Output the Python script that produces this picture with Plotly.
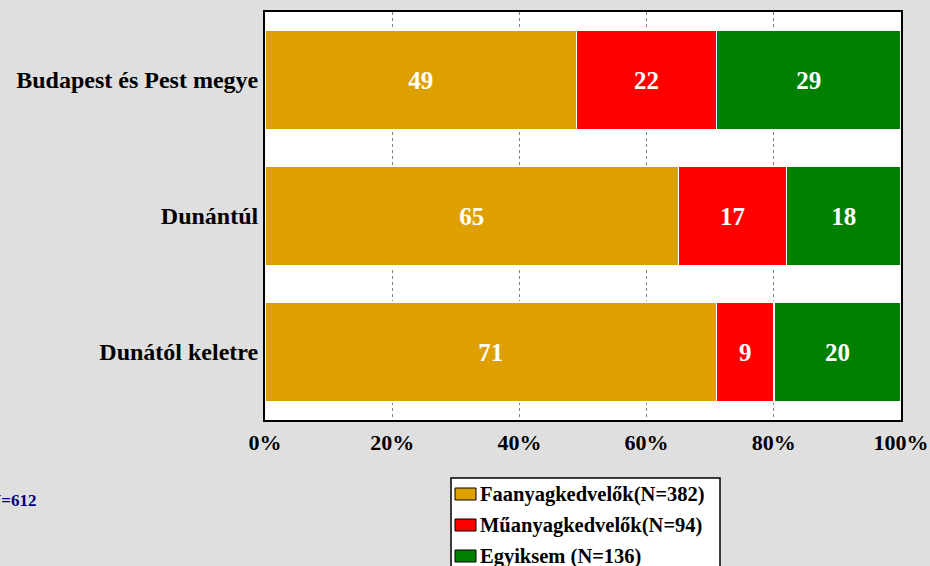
import plotly.graph_objects as go

# regions, top to bottom
regions = ["Budapest és Pest megye", "Dunántúl", "Dunától keletre"]
series = ["Faanyagkedvelők(N=382)", "Műanyagkedvelők(N=94)", "Egyiksem (N=136)"]
faanyag = [49, 65, 71]
muanyag = [22, 17, 9]
egyiksem = [29, 18, 20]
colors = ["#DDA000", "#FF0000", "#008000"]
tick_vals = [0, 20, 40, 60, 80, 100]
tick_text = ["0%", "20%", "40%", "60%", "80%", "100%"]

serif = "Liberation Serif"

# plot area in pixels: left 265, right 901, top 12, bottom 420
def px(x):
    return (x - 265) / 636

def py(y):
    return (420 - y) / 408

fig = go.Figure()
for name, vals, col in zip(series, [faanyag, muanyag, egyiksem], colors):
    fig.add_trace(go.Bar(
        y=regions, x=vals, name=name, orientation="h",
        marker=dict(color=col, line=dict(color="white", width=1.5)),
        text=[f"<b>{v}</b>" for v in vals], textposition="inside",
        insidetextanchor="middle",
        textfont=dict(family=serif, size=25, color="white"),
        width=0.735,
    ))

# hand-drawn legend box (cut off at the bottom edge like the original)
shapes = [dict(type="rect", xref="paper", yref="paper",
               x0=px(451), x1=px(720), y0=py(580), y1=py(478),
               fillcolor="white", line=dict(color="black", width=1.5), layer="above")]
annotations = []
for i, (name, col) in enumerate(zip(series, colors)):
    yc = 494 + i * 31
    shapes.append(dict(type="rect", xref="paper", yref="paper",
                       x0=px(455), x1=px(476), y0=py(yc + 6), y1=py(yc - 6),
                       fillcolor=col, line=dict(color="black", width=1), layer="above"))
    annotations.append(dict(
        text=f"<b>{name}</b>", xref="paper", yref="paper",
        x=px(478), y=py(yc), xanchor="left", yanchor="middle",
        showarrow=False, font=dict(family=serif, size=20.5, color="black"),
    ))

annotations.append(dict(
    text="<b>N=612</b>", xref="paper", yref="paper",
    x=px(38), y=py(500), xanchor="right", yanchor="middle",
    showarrow=False, font=dict(family=serif, size=17, color="#000080"),
))

fig.update_layout(
    barmode="stack",
    width=930, height=566,
    margin=dict(l=265, r=29, t=12, b=146),
    paper_bgcolor="#DFDFDF",
    plot_bgcolor="white",
    font=dict(family=serif, color="black"),
    showlegend=False,
    xaxis=dict(
        range=[0, 100], tickvals=tick_vals, ticktext=tick_text,
        tickfont=dict(family=serif, size=22, weight="bold"),
        showgrid=True, gridcolor="#808080", griddash="dot", gridwidth=1,
        showline=True, linecolor="black", linewidth=2, mirror=True,
        ticks="", zeroline=False, ticklabelstandoff=2, automargin=False,
    ),
    yaxis=dict(
        categoryorder="array", categoryarray=regions[::-1],
        tickfont=dict(family=serif, size=24, weight="bold"),
        showline=True, linecolor="black", linewidth=2, mirror=True,
        ticks="", showgrid=False, ticklabelstandoff=0, automargin=False,
    ),
    shapes=shapes,
    annotations=annotations,
)

fig.write_html("out.html", config={"displayModeBar": False},
               post_script="document.body.style.margin='0';")
